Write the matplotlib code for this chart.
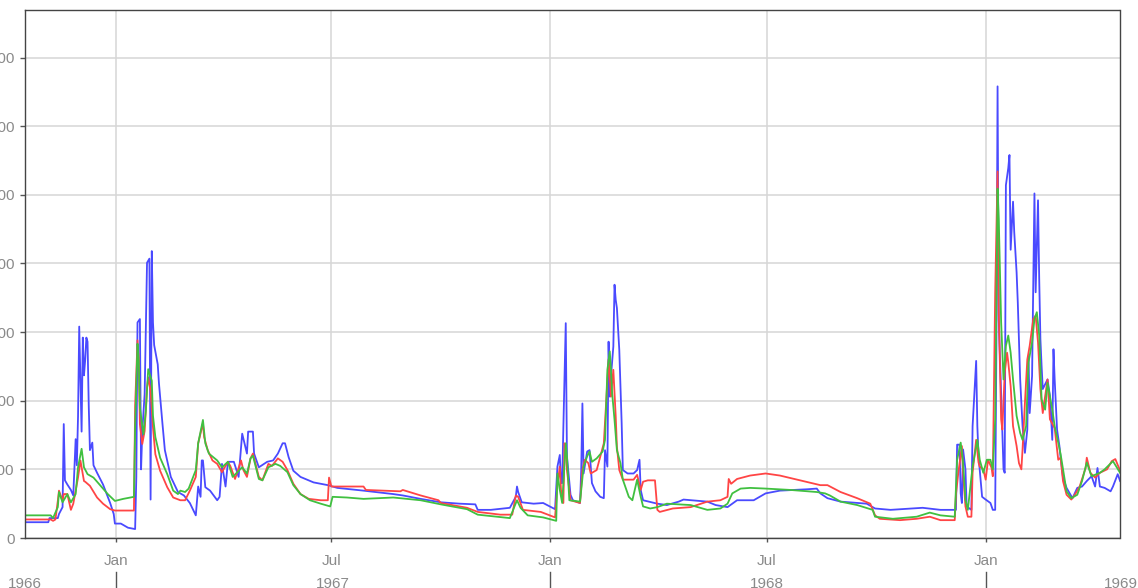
import matplotlib
matplotlib.use("Agg")
import matplotlib.pyplot as plt
import pandas as pd

plt.rcParams['font.family'] = ['Liberation Sans Narrow', 'Liberation Sans', 'DejaVu Sans']

# day number counted from the first day shown
start = pd.Timestamp('1966-10-16')

blue_day = [0, 20, 21, 28, 29, 32, 33, 34, 36, 39, 41, 43, 44, 45, 46, 48, 49, 50, 51, 52,
            53, 54, 55, 57, 58, 61, 66, 72, 75, 76, 81, 87, 93, 94, 95, 97, 98, 99, 101, 103,
            105, 106, 107, 108, 109, 112, 113, 116, 118, 123, 129, 134, 139, 144, 146, 148, 149, 150, 152, 156,
            162, 164, 166, 169, 171, 176, 180, 183, 187, 188, 192, 193, 197, 204, 209, 213, 217, 219, 222, 226,
            232, 243, 255, 263, 285, 310, 318, 333, 350, 366, 379, 381, 392, 408, 413, 414, 415, 418, 428, 436,
            446, 448, 450, 451, 452, 453, 455, 456, 459, 461, 467, 468, 469, 470, 473, 475, 477, 480, 484, 487,
            488, 490, 491, 492, 493, 495, 496, 497, 498, 500, 501, 502, 503, 507, 512, 515, 517, 518, 520, 532,
            540, 550, 554, 574, 581, 591, 599, 613, 623, 635, 658, 666, 669, 675, 686, 708, 715, 728, 755, 770,
            783, 784, 786, 787, 788, 789, 791, 792, 796, 797, 800, 801, 802, 805, 808, 812, 814, 816, 817, 818,
            819, 822, 823, 824, 825, 827, 828, 829, 831, 832, 834, 835, 837, 839, 841, 843, 844, 845, 847, 849,
            850, 852, 853, 854, 855, 856, 860, 862, 864, 865, 866, 868, 870, 871, 873, 876, 881, 885, 889, 893,
            897, 900, 902, 904, 908, 913, 915, 919, 921]
blue_val = [23, 23, 29, 29, 35, 45, 166, 84, 78, 70, 62, 144, 106, 177, 308, 155, 292, 237, 259, 292,
            286, 193, 128, 139, 106, 95, 78, 51, 35, 21, 21, 15, 13, 89, 314, 319, 100, 155, 210, 401,
            407, 56, 418, 314, 281, 253, 226, 166, 128, 89, 67, 62, 51, 33, 75, 60, 113, 113, 74, 69,
            55, 60, 108, 75, 111, 111, 89, 152, 123, 155, 155, 123, 103, 111, 113, 123, 138, 138, 118, 98,
            89, 81, 77, 73, 69, 64, 62, 57, 52, 50, 49, 41, 41, 44, 60, 75, 67, 52, 50, 51,
            42, 104, 121, 80, 80, 162, 313, 119, 63, 55, 51, 99, 196, 94, 126, 128, 80, 68, 60, 58,
            128, 104, 286, 206, 235, 279, 369, 347, 335, 274, 221, 167, 99, 94, 94, 99, 114, 70, 55, 50,
            48, 53, 56, 53, 48, 45, 55, 55, 65, 69, 71, 72, 65, 58, 53, 50, 43, 41, 44, 41,
            41, 136, 136, 65, 51, 129, 100, 46, 41, 163, 258, 163, 119, 60, 56, 51, 41, 41, 280, 658,
            319, 158, 100, 95, 514, 539, 558, 420, 490, 446, 387, 343, 231, 163, 124, 158, 265, 182, 236, 502,
            358, 492, 378, 290, 251, 217, 231, 207, 143, 275, 231, 158, 134, 117, 88, 73, 58, 73, 75, 83,
            90, 75, 102, 75, 73, 68, 75, 93, 83]

red_day = [0, 22, 24, 26, 28, 29, 32, 33, 36, 39, 41, 45, 47, 50, 51, 55, 61, 66, 72, 76,
           92, 93, 95, 96, 97, 99, 101, 103, 104, 106, 108, 110, 114, 120, 125, 131, 135, 139, 144, 146,
           150, 151, 154, 158, 162, 166, 171, 173, 177, 182, 184, 187, 190, 192, 197, 200, 205, 208, 213, 217,
           221, 226, 232, 239, 249, 255, 256, 258, 263, 285, 287, 316, 318, 333, 348, 350, 372, 381, 400, 410,
           413, 415, 419, 434, 446, 448, 450, 451, 453, 454, 455, 456, 459, 467, 469, 471, 474, 476, 481, 487,
           491, 492, 493, 495, 497, 498, 500, 503, 512, 515, 518, 520, 524, 530, 532, 534, 545, 560, 574, 585,
           591, 592, 594, 599, 610, 623, 635, 652, 669, 675, 686, 700, 711, 715, 719, 736, 750, 761, 770, 782,
           783, 785, 788, 789, 791, 793, 796, 797, 800, 802, 803, 806, 808, 810, 813, 814, 816, 818, 819, 821,
           822, 824, 826, 827, 829, 831, 834, 836, 838, 839, 841, 843, 845, 848, 850, 852, 854, 856, 860, 862,
           865, 866, 869, 871, 873, 876, 880, 883, 887, 892, 893, 896, 900, 904, 910, 914, 917, 921]
red_val = [27, 27, 25, 27, 54, 69, 54, 64, 64, 41, 50, 88, 113, 83, 82, 76, 59, 50, 42, 40,
           40, 193, 288, 263, 166, 137, 156, 219, 234, 214, 161, 122, 98, 74, 59, 55, 55, 69, 89, 138,
           167, 147, 128, 113, 108, 96, 111, 105, 86, 113, 99, 89, 116, 123, 89, 84, 108, 105, 116, 111,
           99, 79, 64, 57, 55, 55, 88, 75, 75, 75, 70, 68, 70, 62, 55, 51, 44, 38, 34, 34,
           62, 60, 41, 38, 30, 77, 104, 70, 51, 138, 128, 99, 55, 51, 99, 114, 109, 94, 99, 138,
           260, 235, 206, 245, 177, 133, 99, 85, 85, 92, 70, 82, 84, 84, 41, 38, 43, 45, 53, 55,
           60, 86, 79, 86, 91, 94, 91, 84, 77, 77, 67, 58, 50, 33, 28, 26, 28, 31, 26, 26,
           63, 95, 134, 95, 46, 31, 31, 95, 143, 110, 104, 100, 85, 114, 102, 90, 358, 534, 329, 173,
           158, 241, 270, 256, 221, 163, 134, 109, 100, 129, 197, 260, 280, 319, 324, 285, 217, 182, 231, 173,
           163, 160, 114, 117, 83, 63, 56, 63, 75, 102, 117, 95, 88, 95, 100, 112, 115, 98]

green_day = [0, 22, 24, 28, 29, 32, 36, 39, 43, 45, 48, 50, 53, 58, 64, 70, 76, 83, 92, 93,
             95, 96, 97, 100, 102, 104, 107, 108, 110, 114, 120, 125, 129, 131, 135, 138, 144, 146, 150, 152,
             155, 162, 166, 171, 175, 179, 183, 187, 190, 192, 197, 200, 205, 211, 215, 221, 226, 232, 240, 249,
             255, 257, 259, 271, 285, 310, 333, 350, 372, 381, 408, 414, 417, 423, 436, 447, 448, 450, 452, 455,
             456, 458, 467, 470, 473, 475, 477, 481, 486, 488, 490, 492, 493, 494, 496, 498, 501, 503, 508, 511,
             513, 515, 518, 520, 526, 532, 540, 560, 574, 585, 591, 595, 602, 610, 623, 644, 666, 673, 677, 686,
             700, 713, 715, 730, 750, 761, 770, 782, 784, 787, 789, 791, 793, 797, 801, 803, 806, 809, 812, 814,
             816, 818, 819, 821, 823, 825, 827, 829, 831, 834, 837, 839, 842, 844, 847, 849, 851, 853, 855, 858,
             860, 864, 866, 869, 871, 876, 880, 885, 889, 893, 897, 904, 908, 915, 921]
green_val = [33, 33, 29, 45, 67, 52, 64, 52, 64, 103, 130, 103, 93, 88, 76, 64, 54, 57, 60, 161,
             283, 258, 190, 151, 185, 246, 229, 178, 147, 117, 93, 69, 64, 69, 67, 72, 99, 138, 172, 138,
             123, 113, 103, 111, 89, 96, 103, 94, 116, 120, 86, 84, 103, 108, 105, 96, 77, 64, 55, 50,
             47, 46, 60, 59, 57, 59, 55, 49, 42, 34, 29, 55, 44, 33, 30, 25, 94, 70, 51, 138,
             119, 55, 53, 104, 119, 126, 111, 116, 126, 143, 245, 272, 245, 211, 172, 128, 109, 85, 60, 55,
             70, 85, 60, 46, 43, 45, 50, 48, 41, 43, 50, 65, 72, 73, 72, 70, 67, 65, 62, 53,
             48, 41, 31, 28, 31, 37, 33, 31, 114, 139, 109, 56, 41, 104, 143, 114, 95, 114, 114, 100,
             173, 509, 465, 314, 231, 280, 295, 270, 231, 178, 153, 143, 163, 256, 285, 319, 329, 295, 202, 187,
             226, 187, 163, 139, 122, 68, 58, 63, 83, 110, 90, 95, 100, 112, 95]

y_ticks = [0, 100, 200, 300, 400, 500, 600, 700]
month_ticks = ['1967-01-01', '1967-07-01', '1968-01-01', '1968-07-01', '1969-01-01']
month_labels = ['Jan', 'Jul', 'Jan', 'Jul', 'Jan']
year_labels = ['1966', '1967', '1968', '1969']
year_pos = ['1966-10-16', '1967-07-02', '1968-07-01', '1969-04-25']
year_bounds = ['1967-01-01', '1968-01-01', '1969-01-01']


def to_dates(days):
    return start + pd.to_timedelta(days, unit='D')


grey = '#8a8a8a'
fig = plt.figure(figsize=(11.38, 5.88), dpi=100)
ax = fig.add_axes([24.5 / 1138, 50 / 588, 1095 / 1138, 528.5 / 588])

ax.plot(to_dates(blue_day), blue_val, color='#4a4aff', lw=1.3)
ax.plot(to_dates(red_day), red_val, color='#ff4545', lw=1.3)
ax.plot(to_dates(green_day), green_val, color='#40c040', lw=1.3)

ax.set_xlim(start, start + pd.Timedelta(days=920.5))
ax.set_ylim(0, 770)

ax.set_yticks(y_ticks)
ax.set_yticklabels([str(v) for v in y_ticks])
ax.set_xticks(pd.to_datetime(month_ticks))
ax.set_xticklabels(month_labels)

ax.grid(True, color='#d6d6d6', lw=1.1)
ax.set_axisbelow(True)
ax.tick_params(axis='y', length=3.5, width=1, color='#555555', labelcolor=grey,
               labelsize=11, pad=3.5)
ax.tick_params(axis='x', length=3, width=1, color='#555555', labelcolor=grey,
               labelsize=11, pad=8.5)
for s in ax.spines.values():
    s.set_color('#444444')
    s.set_linewidth(1.0)

trans = ax.get_xaxis_transform()
for lab, pos in zip(year_labels, year_pos):
    ax.text(pd.Timestamp(pos), -0.087, lab, transform=trans, ha='center', va='center',
            color=grey, fontsize=11, clip_on=False)
for b in year_bounds:
    d = pd.Timestamp(b)
    ax.plot([d, d], [-0.064, -0.1], transform=trans, color='#555555', lw=1.0, clip_on=False)

fig.savefig('out.png', dpi=100)
